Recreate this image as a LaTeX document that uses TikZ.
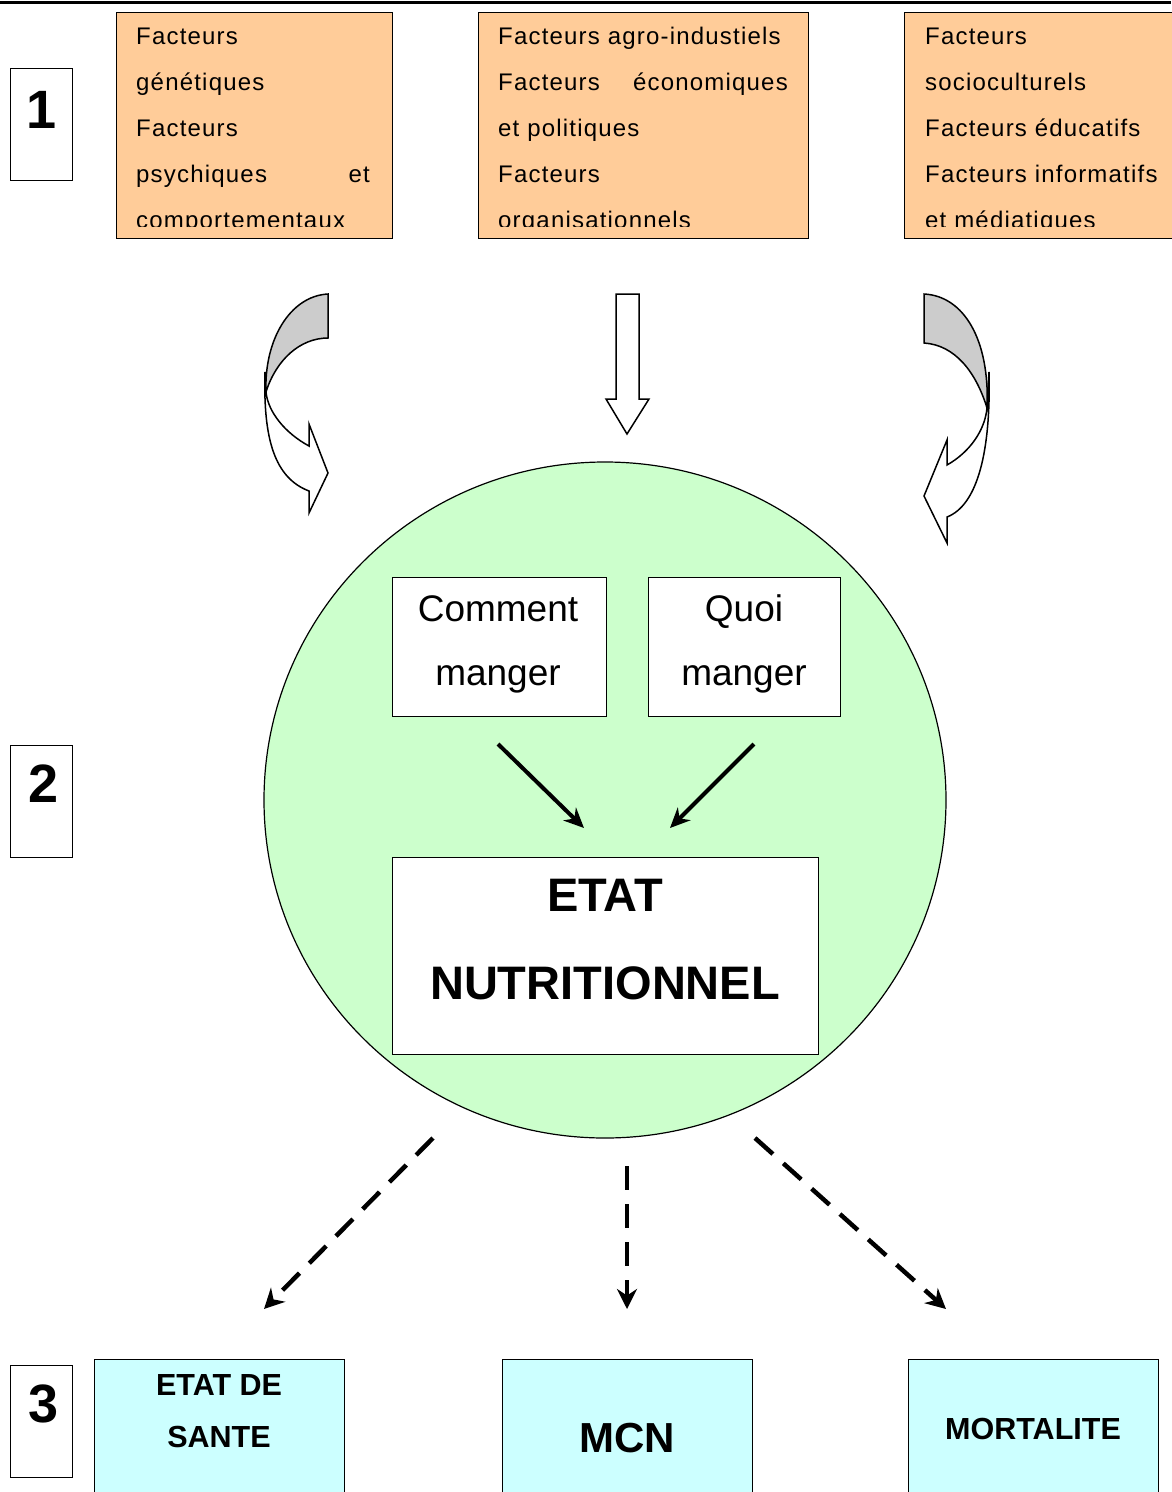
\documentclass[tikz,border=0pt]{standalone}
\usepackage{fontspec}
\setmainfont{Liberation Sans}
\newfontfamily\trackfont[LetterSpace=5]{Liberation Sans}
\usetikzlibrary{arrows.meta,shapes.geometric}
\definecolor{orangebox}{HTML}{FFCC99}
\definecolor{greencirc}{HTML}{CCFFCC}
\definecolor{cyanbox}{HTML}{CCFFFF}
\definecolor{bandgray}{HTML}{CCCCCC}
\begin{document}
\begin{tikzpicture}[x=1pt,y=-1pt,
  obox/.style={draw, fill=orangebox, line width=1pt, inner sep=0pt, anchor=north west},
  numbox/.style={draw, line width=1.2pt, inner sep=0pt, anchor=north west, minimum width=62, minimum height=112},
  numtxt/.style={font=\fontsize{54}{54}\selectfont\bfseries, inner sep=0pt},
  ftxt/.style={font=\trackfont\fontsize{24}{24}\selectfont, inner sep=0pt, anchor=base west},
  wbox/.style={draw, fill=white, line width=1.2pt, inner sep=0pt, anchor=north west},
  mtxt/.style={font=\fontsize{37}{37}\selectfont, inner sep=0pt, anchor=base},
  cbox/.style={draw, fill=cyanbox, line width=1.2pt, inner sep=0pt, anchor=north west, minimum width=250, minimum height=150},
  btxt/.style={font=\fontsize{30.5}{30.5}\selectfont\bfseries, inner sep=0pt, anchor=base},
  band/.style={draw, line width=1.5pt, line join=miter},
  solidarrow/.style={line width=4pt, -{Stealth[length=20pt,width=18pt]}},
  dasharrow/.style={line width=4.5pt, dash pattern=on 24pt off 14pt, -{Stealth[length=20pt,width=20pt]}}
]
\useasboundingbox (0,0) rectangle (1171,1492);
\fill[white] (0,0) rectangle (1171,1492);
% top rule
\draw[line width=3pt] (0,2) -- (1171,2);

% number boxes
\node[numbox] (n1) at (10,68) {};
\node[numtxt] (n1t) at (42,110) {1};
\node[numbox] (n2) at (10,745) {};
\node[numtxt] (n2t) at (44,784) {2};
\node[numbox] (n3) at (10,1365) {};
\node[numtxt] (n3t) at (44,1404) {3};

% orange boxes
\node[obox, minimum width=276, minimum height=226] (b1) at (116,12) {};
\node[obox, minimum width=330, minimum height=226] (b2) at (478,12) {};
\node[obox, minimum width=275, minimum height=226] (b3) at (904,12) {};

\begin{scope}
\clip (116,12) rectangle (1175,226);
\node[ftxt] (b1a) at (136,44) {Facteurs};
\node[ftxt] (b1b) at (136,90) {génétiques};
\node[ftxt] (b1c) at (136,136) {Facteurs};
\node[ftxt] (b1d) at (136,182) {psychiques};
\node[ftxt, anchor=base east] (b1e) at (370,182) {et};
\node[ftxt] (b1f) at (136,228) {comportementaux};

\node[ftxt] (b2a) at (498,44) {Facteurs agro-industiels};
\node[ftxt] (b2b) at (498,90) {Facteurs};
\node[ftxt, anchor=base east] (b2c) at (788,90) {économiques};
\node[ftxt] (b2d) at (498,136) {et politiques};
\node[ftxt] (b2e) at (498,182) {Facteurs};
\node[ftxt] (b2f) at (498,228) {organisationnels};

\node[ftxt] (b3a) at (925,44) {Facteurs};
\node[ftxt] (b3b) at (925,90) {socioculturels};
\node[ftxt] (b3c) at (925,136) {Facteurs éducatifs};
\node[ftxt] (b3d) at (925,182) {Facteurs informatifs};
\node[ftxt] (b3e) at (925,228) {et médiatiques};
\end{scope}

% left curved arrow
\draw[band, fill=white] (265,372) .. controls (263,440) and (275,478) .. (309,491)
  -- (309,513) -- (328,473) -- (309,424) -- (309,446)
  .. controls (285,433) and (268,412) .. (266,392) -- cycle;
\draw[band, fill=bandgray] (328,294) .. controls (290,296) and (264,340) .. (266,392)
  .. controls (276,360) and (300,338) .. (328,338) -- cycle;

% middle straight arrow
\draw[band, fill=white] (616,294) -- (639,294) -- (639,399) -- (649,399) -- (627,434)
  -- (606,399) -- (616,399) -- cycle;

% right curved arrow
\draw[band, fill=white] (989,372) .. controls (991,450) and (978,505) .. (947,517)
  -- (947,543) -- (924,496) -- (947,440) -- (947,465)
  .. controls (970,452) and (985,430) .. (987,408) -- cycle;
\draw[band, fill=bandgray] (924,294) .. controls (964,296) and (990,340) .. (987,408)
  .. controls (976,372) and (955,345) .. (924,343) -- cycle;

% circle
\node[draw, fill=greencirc, line width=1.2pt, ellipse, minimum width=682, minimum height=676, inner sep=0pt] (circ) at (605,800) {};

% inner boxes
\node[wbox, minimum width=214, minimum height=139] (how) at (392,577) {};
\node[mtxt] (howa) at (498,621) {Comment};
\node[mtxt] (howb) at (498,685) {manger};
\node[wbox, minimum width=192, minimum height=139] (what) at (648,577) {};
\node[mtxt] (whata) at (744,621) {Quoi};
\node[mtxt] (whatb) at (744,685) {manger};
\node[wbox, minimum width=426, minimum height=197] (etat) at (392,857) {};
\node[font=\fontsize{47}{47}\selectfont\bfseries, inner sep=0pt, anchor=base] (etata) at (605,911) {ETAT};
\node[font=\fontsize{47}{47}\selectfont\bfseries, inner sep=0pt, anchor=base] (etatb) at (605,999) {NUTRITIONNEL};

\coordinate (h1) at (498,744);
\coordinate (h2) at (584,828);
\coordinate (w1) at (754,744);
\coordinate (w2) at (670,828);
\draw[solidarrow] (h1) -- (h2);
\draw[solidarrow] (w1) -- (w2);

% dashed arrows
\coordinate (d1s) at (433,1138);
\coordinate (d1e) at (264,1309);
\coordinate (d2s) at (627,1166);
\coordinate (d2e) at (627,1309);
\coordinate (d3s) at (755,1138);
\coordinate (d3e) at (946,1309);
\draw[dasharrow] (d1s) -- (d1e);
\draw[dasharrow] (d2s) -- (d2e);
\draw[dasharrow] (d3s) -- (d3e);

% bottom boxes
\node[cbox] (sante) at (94,1359) {};
\node[btxt] (santea) at (219,1395) {ETAT DE};
\node[btxt] (santeb) at (219,1447) {SANTE};
\node[cbox] (mcn) at (502,1359) {};
\node[font=\fontsize{42}{42}\selectfont\bfseries, inner sep=0pt, anchor=base] (mcnt) at (627,1452) {MCN};
\node[cbox] (mort) at (908,1359) {};
\node[btxt] (mortt) at (1033,1439) {MORTALITE};
\end{tikzpicture}
\end{document}
